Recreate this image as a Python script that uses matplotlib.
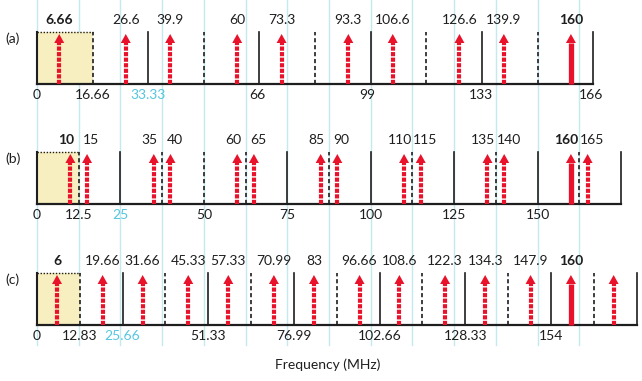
import matplotlib
matplotlib.use('Agg')
import matplotlib.pyplot as plt
from matplotlib.patches import Rectangle, Polygon

plt.rcParams['font.family'] = ['Lato', 'DejaVu Sans']
plt.rcParams['lines.scale_dashes'] = False

# Colours
RED = '#e8132b'
CYAN = '#c6e9ee'
YELLOW = '#f7efc0'
INK = '#1e1e1e'
CYAN_TEXT = '#55c6df'

# Panel (a)
a_arrows = [6.66, 26.6, 39.9, 60, 73.3, 93.3, 106.6, 126.6, 139.9, 160]
a_labels = ['6.66', '26.6', '39.9', '60', '73.3', '93.3', '106.6', '126.6', '139.9', '160']
a_bold = ['6.66', '160']
a_solid = [33.33, 66.66, 99.99, 133.33, 166.6]
a_dashed = [16.66, 50, 83.33, 116.66, 150]
a_box = 16.66
a_ticks = [0, 16.66, 33.33, 66, 99, 133, 166]
a_tick_labels = ['0', '16.66', '33.33', '66', '99', '133', '166']
a_cyan_tick = '33.33'

# Panel (b)
b_arrows = [10, 15, 35, 40, 60, 65, 85, 90, 110, 115, 135, 140, 160, 165]
b_labels = ['10', '15', '35', '40', '60', '65', '85', '90', '110', '115', '135', '140', '160', '165']
b_bold = ['10', '160']
b_solid = [25, 75, 100, 125, 150, 175]
b_dashed = [12.5, 37.5, 50, 62.5, 87.5, 112.5, 137.5, 162.5]
b_box = 12.5
b_ticks = [0, 12.5, 25, 50, 75, 100, 125, 150]
b_tick_labels = ['0', '12.5', '25', '50', '75', '100', '125', '150']
b_cyan_tick = '25'

# Panel (c)
c_arrows = [6, 19.66, 31.66, 45.33, 57.33, 70.99, 83, 96.66, 108.6, 122.3, 134.3, 147.9, 160, 172.8]
c_labels = ['6', '19.66', '31.66', '45.33', '57.33', '70.99', '83', '96.66', '108.6', '122.3',
            '134.3', '147.9', '160', '']
c_bold = ['6', '160']
c_solid = [25.66, 51.33, 76.99, 102.66, 128.33, 154, 179.66]
c_dashed = [12.83, 38.5, 64.16, 89.83, 115.5, 141.16, 166.83]
c_box = 12.83
c_ticks = [0, 12.83, 25.66, 51.33, 76.99, 102.66, 128.33, 154]
c_tick_labels = ['0', '12.83', '25.66', '51.33', '76.99', '102.66', '128.33', '154']
c_cyan_tick = '25.66'

guide_lines = [12.5 * k for k in range(14)]

# layout (y in pixels from the top, x in MHz)
PX = 3.337
PANEL_H = 52
FS = 10


def draw_panel(ax, letter, top, arrows, labels, bold, solid, dashed, box,
               ticks, tick_labels, cyan_tick):
    base = top + PANEL_H
    right = max(solid)
    # highlighted first band
    ax.add_patch(Rectangle((0, top), box, PANEL_H, facecolor=YELLOW,
                           edgecolor='none', zorder=1))
    ax.plot([0, box], [top, top], color=INK, lw=1.0, ls=(0, (1, 1.2)), zorder=3)
    # division lines
    for x in solid:
        ax.plot([x, x], [base, top], color=INK, lw=1.2, zorder=3)
    for x in dashed:
        ax.plot([x, x], [base, top], color=INK, lw=1.2, ls=(0, (3, 2)), zorder=3)
    ax.plot([0, 0], [base, top], color=INK, lw=1.5, zorder=3)
    ax.plot([0, right], [base, base], color=INK, lw=1.6, zorder=4)

    # arrows
    hw = 5 / PX
    for i, (x, lab) in enumerate(zip(arrows, labels)):
        is_solid = lab == '160'
        tip = top + 2
        head_base = tip + 9
        if is_solid:
            ax.plot([x, x], [base, head_base - 0.5], color=RED, lw=3.8,
                    solid_capstyle='butt', zorder=5)
        else:
            ax.plot([x, x], [base, head_base - 0.5], color=RED, lw=3.0,
                    dashes=(3.0, 1.0), dash_capstyle='butt', zorder=5)
        ax.add_patch(Polygon([[x - hw, head_base], [x + hw, head_base], [x, tip]],
                             closed=True, facecolor=RED, edgecolor='none', zorder=5))
        if lab:
            # push labels of close pairs apart
            shift = 0
            if i + 1 < len(arrows) and arrows[i + 1] - x < 6:
                shift = -1.3
            elif i > 0 and x - arrows[i - 1] < 6:
                shift = 1.3
            ax.text(x + shift, top - 12, lab, ha='center', va='center', fontsize=FS,
                    color=INK, fontweight='bold' if lab in bold else 'normal')

    # tick labels
    for x, lab in zip(ticks, tick_labels):
        ax.text(x, base + 11, lab, ha='center', va='center', fontsize=FS,
                color=CYAN_TEXT if lab == cyan_tick else INK)

    ax.text(-7.3, top + 7, '(' + letter + ')', ha='center', va='center',
            fontsize=FS, color=INK)


fig = plt.figure(figsize=(6.42, 3.81), dpi=100)
ax = fig.add_axes([0, 0, 1, 1])
ax.set_xlim(-37 / PX, (642 - 37) / PX)
ax.set_ylim(381, 0)
ax.axis('off')

for x in guide_lines:
    ax.plot([x, x], [0, 345], color=CYAN, lw=1.0, zorder=0)

draw_panel(ax, 'a', 32, a_arrows, a_labels, a_bold, a_solid, a_dashed, a_box,
           a_ticks, a_tick_labels, a_cyan_tick)
draw_panel(ax, 'b', 152, b_arrows, b_labels, b_bold, b_solid, b_dashed, b_box,
           b_ticks, b_tick_labels, b_cyan_tick)
draw_panel(ax, 'c', 273, c_arrows, c_labels, c_bold, c_solid, c_dashed, c_box,
           c_ticks, c_tick_labels, c_cyan_tick)

ax.text(87, 365, 'Frequency (MHz)', ha='center', va='center', fontsize=FS, color=INK)

fig.savefig('out.png', dpi=100, facecolor='white')
